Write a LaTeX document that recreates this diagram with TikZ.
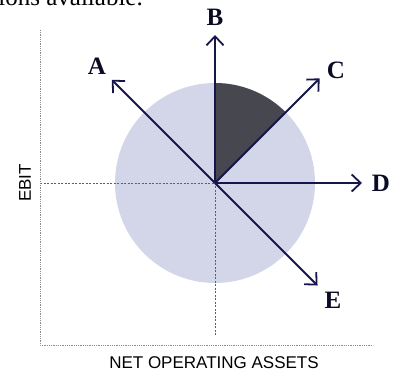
\documentclass[tikz,border=0pt]{standalone}
\usepackage{fontspec}
\setmainfont{Liberation Serif}
\setsansfont{Liberation Sans}
\usepackage{tikz}
\usetikzlibrary{arrows.meta}

\definecolor{discfill}{HTML}{D3D6E8}
\definecolor{wedgefill}{HTML}{47474F}
\definecolor{inkblue}{HTML}{16164A}
\definecolor{axisgray}{HTML}{8A8A90}

\begin{document}
\begin{tikzpicture}[x=1pt, y=1pt,
    vec/.style={draw=inkblue, line width=1.8pt, -{Straight Barb[length=9pt, width=17pt, line width=1.8pt]}},
    axisline/.style={draw=axisgray, line width=0.8pt, densely dotted},
    guide/.style={draw=inkblue!70, line width=0.6pt, dash pattern=on 2pt off 1.5pt},
    letter/.style={font=\fontsize{25}{25}\selectfont\bfseries, text=inkblue!50!black, inner sep=0pt},
    axislabel/.style={font=\sffamily\fontsize{17}{17}\selectfont, inner sep=0pt}]
    \useasboundingbox (0, 0) rectangle (393, 374);
    \clip (0, 0) rectangle (393, 374);

    % fragment of the surrounding text
    \node[anchor=base east, font=\fontsize{25}{25}\selectfont, inner sep=0pt] (caption) at (143, 368) {options available.};

    \coordinate (O) at (215, 191);

    % disc and shaded sector
    \fill[discfill] (O) circle (100);
    \fill[wedgefill] (O) -- ++(45:100) arc (45:90:100) -- cycle;

    % guides
    \coordinate (ylevel) at (40, 191);
    \coordinate (xlevel) at (215, 37);
    \draw[guide] (ylevel) -- (O);
    \draw[guide] (O) -- (xlevel);

    % axes
    \coordinate (top) at (40, 344);
    \coordinate (corner) at (40, 29);
    \coordinate (right) at (373, 29);
    \draw[axisline] (top) -- (corner) -- (right);
    \node[axislabel, rotate=90] (ebit) at (25, 191) {EBIT};
    \node[axislabel] (noa) at (214, 11) {NET OPERATING ASSETS};

    % directions
    \draw[vec] (O) -- ++(135:146) coordinate (tipA);
    \draw[vec] (O) -- ++(90:148) coordinate (tipB);
    \draw[vec] (O) -- ++(45:148) coordinate (tipC);
    \draw[vec] (O) -- ++(0:147) coordinate (tipD);
    \draw[vec] (O) -- ++(-45:145) coordinate (tipE);

    \node[letter] (A) at (97, 308) {A};
    \node[letter] (B) at (215, 357) {B};
    \node[letter] (C) at (336, 304) {C};
    \node[letter] (D) at (381, 191) {D};
    \node[letter] (E) at (333, 74) {E};
\end{tikzpicture}
\end{document}
